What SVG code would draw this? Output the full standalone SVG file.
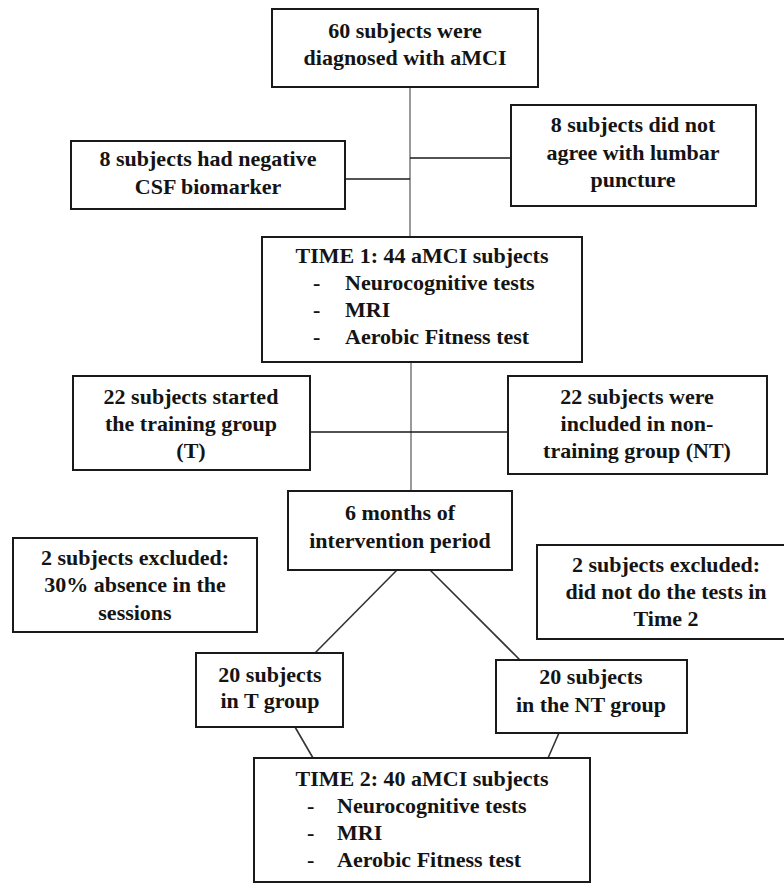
<svg xmlns="http://www.w3.org/2000/svg" width="784" height="884" viewBox="0 0 784 884">
<style>
.box{fill:#fff;stroke:#1a1a1a;stroke-width:2}
.t{font-family:'Times New Roman','Liberation Serif',serif;font-weight:bold;font-size:22px;fill:#141414}
.c{text-anchor:middle}
.v{stroke:#9a9a9a;stroke-width:2;fill:none}
.h{stroke:#1a1a1a;stroke-width:1.6;fill:none}
.d{stroke:#333;stroke-width:1.6;fill:none}
</style>
<rect width="784" height="884" fill="#fff"/>
<g id="connectors">
<line class="v" x1="410" y1="87" x2="410" y2="237"/>
<line class="h" x1="345" y1="179" x2="410" y2="179"/>
<line class="h" x1="410" y1="158" x2="511" y2="158"/>
<line class="v" x1="411" y1="362" x2="411" y2="491"/>
<line class="h" x1="310" y1="432" x2="508" y2="432"/>
<line class="d" x1="397" y1="570" x2="315" y2="653"/>
<line class="d" x1="430" y1="570" x2="520" y2="660"/>
<line class="d" x1="295" y1="727" x2="313" y2="758"/>
<line class="d" x1="559" y1="733" x2="548" y2="758"/>
</g>
<g id="n1">
<rect class="box" x="272" y="9" width="266" height="78"/>
<text class="t c" x="405" y="38">60 subjects were</text>
<text class="t c" x="405" y="65">diagnosed with aMCI</text>
</g>
<g id="n2">
<rect class="box" x="71" y="141" width="274" height="68"/>
<text class="t c" x="208" y="166">8 subjects had negative</text>
<text class="t c" x="208" y="194">CSF biomarker</text>
</g>
<g id="n3">
<rect class="box" x="511" y="105" width="245" height="101"/>
<text class="t c" x="633" y="132">8 subjects did not</text>
<text class="t c" x="633" y="160">agree with lumbar</text>
<text class="t c" x="633" y="187">puncture</text>
</g>
<g id="n4">
<rect class="box" x="262" y="237" width="320" height="125"/>
<text class="t c" x="422" y="263">TIME 1: 44 aMCI subjects</text>
<text class="t" x="313" y="290">-</text><text class="t" x="345" y="290">Neurocognitive tests</text>
<text class="t" x="313" y="317">-</text><text class="t" x="345" y="317">MRI</text>
<text class="t" x="313" y="344">-</text><text class="t" x="345" y="344">Aerobic Fitness test</text>
</g>
<g id="n5">
<rect class="box" x="73" y="376" width="237" height="94"/>
<text class="t c" x="191" y="404">22 subjects started</text>
<text class="t c" x="191" y="431">the training group</text>
<text class="t c" x="191" y="458">(T)</text>
</g>
<g id="n6">
<rect class="box" x="508" y="376" width="259" height="98"/>
<text class="t c" x="637" y="404">22 subjects were</text>
<text class="t c" x="637" y="431">included in non-</text>
<text class="t c" x="637" y="458">training group (NT)</text>
</g>
<g id="n7">
<rect class="box" x="288" y="491" width="224" height="79"/>
<text class="t c" x="400" y="520">6 months of</text>
<text class="t c" x="400" y="548">intervention period</text>
</g>
<g id="n8">
<rect class="box" x="13" y="538" width="244" height="94"/>
<text class="t c" x="135" y="565">2 subjects excluded:</text>
<text class="t c" x="135" y="592">30% absence in the</text>
<text class="t c" x="135" y="620">sessions</text>
</g>
<g id="n9">
<rect class="box" x="537" y="545" width="258" height="94"/>
<text class="t c" x="666" y="572">2 subjects excluded:</text>
<text class="t c" x="666" y="599">did not do the tests in</text>
<text class="t c" x="666" y="626">Time 2</text>
</g>
<g id="n10">
<rect class="box" x="196" y="653" width="147" height="74"/>
<text class="t c" x="270" y="682">20 subjects</text>
<text class="t c" x="270" y="708">in T group</text>
</g>
<g id="n11">
<rect class="box" x="496" y="660" width="191" height="73"/>
<text class="t c" x="591" y="684">20 subjects</text>
<text class="t c" x="591" y="712">in the NT group</text>
</g>
<g id="n12">
<rect class="box" x="254" y="758" width="336" height="124"/>
<text class="t c" x="422" y="786">TIME 2: 40 aMCI subjects</text>
<text class="t" x="307" y="813">-</text><text class="t" x="337" y="813">Neurocognitive tests</text>
<text class="t" x="307" y="840">-</text><text class="t" x="337" y="840">MRI</text>
<text class="t" x="307" y="867">-</text><text class="t" x="337" y="867">Aerobic Fitness test</text>
</g>
</svg>
